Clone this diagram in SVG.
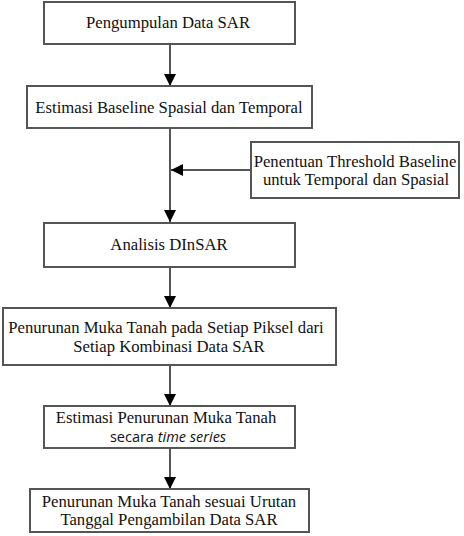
<svg xmlns="http://www.w3.org/2000/svg" width="464" height="536" viewBox="0 0 464 536">
<style>
.box{fill:#fff;stroke:#555;stroke-width:2}
.c{stroke:#555;stroke-width:2;fill:none;marker-end:url(#ah)}
</style>
<defs>
<marker id="ah" markerUnits="userSpaceOnUse" markerWidth="12" markerHeight="14" refX="12" refY="6" orient="auto">
<path d="M0,0 L12,6 L0,12 Z" fill="#000"/>
</marker>
</defs>
<rect width="464" height="536" fill="#fff"/>
<g id="connectors">
<line class="c" x1="170" y1="44" x2="170" y2="86"/>
<line x1="170" y1="128" x2="170" y2="170" stroke="#555" stroke-width="2"/>
<line class="c" x1="170" y1="170" x2="170" y2="222"/>
<line class="c" x1="251" y1="170" x2="171" y2="170"/>
<line class="c" x1="170" y1="267" x2="170" y2="308"/>
<line class="c" x1="170" y1="365" x2="170" y2="406"/>
<line class="c" x1="170" y1="448" x2="170" y2="489"/>
</g>
<g id="n1">
<rect class="box" x="44" y="2" width="251" height="42"/>
<text x="168" y="28" font-family="Liberation Serif" font-size="16.7" fill="#111" text-anchor="middle">Pengumpulan Data SAR</text>
</g>
<g id="n2">
<rect class="box" x="27" y="86" width="285" height="42"/>
<text x="169" y="113" font-family="Liberation Serif" font-size="16.7" fill="#111" text-anchor="middle">Estimasi Baseline Spasial dan Temporal</text>
</g>
<g id="n3">
<rect class="box" x="251" y="142" width="208" height="56"/>
<text x="355" y="167" font-family="Liberation Serif" font-size="16.7" fill="#111" text-anchor="middle">Penentuan Threshold Baseline</text>
<text x="356" y="185" font-family="Liberation Serif" font-size="16.7" fill="#111" text-anchor="middle">untuk Temporal dan Spasial</text>
</g>
<g id="n4">
<rect class="box" x="44" y="223" width="251" height="44"/>
<text x="169" y="250" font-family="Liberation Serif" font-size="16.7" fill="#111" text-anchor="middle">Analisis DInSAR</text>
</g>
<g id="n5">
<rect class="box" x="3" y="308" width="333" height="57"/>
<text x="166" y="333" font-family="Liberation Serif" font-size="16.7" fill="#111" text-anchor="middle">Penurunan Muka Tanah pada Setiap Piksel dari</text>
<text x="169" y="352" font-family="Liberation Serif" font-size="16.7" fill="#111" text-anchor="middle">Setiap Kombinasi Data SAR</text>
</g>
<g id="n6">
<rect class="box" x="44" y="406" width="251" height="42"/>
<text x="166" y="423" font-family="Liberation Serif" font-size="16.7" fill="#111" text-anchor="middle">Estimasi Penurunan Muka Tanah</text>
<text x="168" y="442" font-family="Open Sans" font-size="14.5" fill="#111" text-anchor="middle">secara <tspan font-style="italic">time series</tspan></text>
</g>
<g id="n7">
<rect class="box" x="30" y="489" width="279" height="43"/>
<text x="169" y="507" font-family="Liberation Serif" font-size="16.7" fill="#111" text-anchor="middle">Penurunan Muka Tanah sesuai Urutan</text>
<text x="169" y="525" font-family="Liberation Serif" font-size="16.7" fill="#111" text-anchor="middle">Tanggal Pengambilan Data SAR</text>
</g>
</svg>
